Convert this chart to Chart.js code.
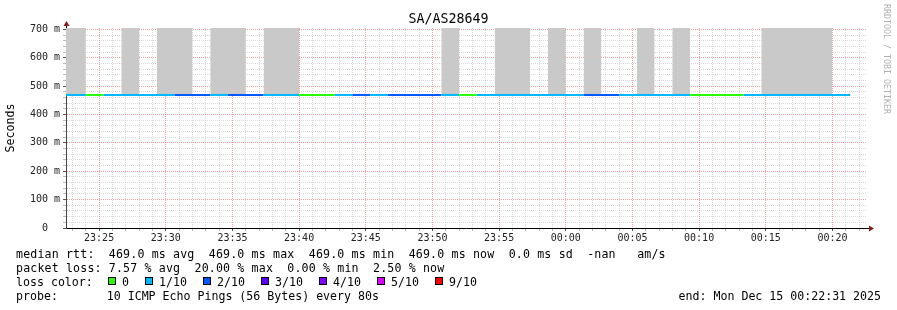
<!DOCTYPE html>
<html>
<head>
<meta charset="utf-8">
<title>SA/AS28649</title>
<script src="https://cdn.jsdelivr.net/npm/chart.js@4.4.1/dist/chart.umd.min.js"></script>
<style>
  html, body { margin: 0; padding: 0; background: #fff; }
  #wrap {
    position: relative; width: 897px; height: 310px; overflow: hidden;
    font-family: 'DejaVu Sans Mono', monospace; color: #000;
  }
  #graph { position: absolute; left: 0; top: 0; }
  #title {
    position: absolute; left: 0; top: 11px; width: 897px; text-align: center;
    font-size: 13.3px; line-height: 16px;
  }
  #credit {
    position: absolute; left: 882px; top: 4px;
    writing-mode: vertical-rl; font-size: 8.3px; color: #b0b0b0; white-space: pre;
  }
  .row {
    position: absolute; left: 16px; font-size: 11.6px; line-height: 14px; white-space: pre;
  }
  .wide { letter-spacing: 0.16px; }
  #end { left: auto; right: 16px; }
  .loss-item { position: absolute; top: 0; white-space: pre; }
  .loss-box {
    position: absolute; top: 2px; width: 8px; height: 8px;
    box-sizing: border-box; border: 1px solid #000;
  }
</style>
</head>
<body>
<div id="wrap">
  <canvas id="graph" width="897" height="310"></canvas>
  <div id="title">SA/AS28649</div>
  <div id="credit">RRDTOOL / TOBI OETIKER</div>
  <div class="row wide" style="top:247px">median rtt:  469.0 ms avg  469.0 ms max  469.0 ms min  469.0 ms now  0.0 ms sd  -nan   am/s</div>
  <div class="row wide" style="top:261px">packet loss: 7.57 % avg  20.00 % max  0.00 % min  2.50 % now</div>
  <div class="row" id="loss-row" style="top:275px">loss color:</div>
  <div class="row" style="top:289px">probe:       10 ICMP Echo Pings (56 Bytes) every 80s</div>
  <div class="row" id="end" style="top:289px">end: Mon Dec 15 00:22:31 2025</div>
</div>
<script>
// time axis, seconds of day (wraps past midnight)
const START = 23 * 3600 + 22 * 60 + 31;   // 23:22:31
const END = START + 3600;                 // 00:22:31
const STEP = 80;                          // probe step
const FIRST_STEP_END = 84160;             // 23:22:40
const Y_MAX = 705;

// one value per 80s step
const medianRtt = [
    469.0, 469.0, 469.0, 469.0, 469.0, 469.0, 469.0, 469.0, 469.0, 469.0,
    469.0, 469.0, 469.0, 469.0, 469.0, 469.0, 469.0, 469.0, 469.0, 469.0,
    469.0, 469.0, 469.0, 469.0, 469.0, 469.0, 469.0, 469.0, 469.0, 469.0,
    469.0, 469.0, 469.0, 469.0, 469.0, 469.0, 469.0, 469.0, 469.0, 469.0,
    469.0, 469.0, 469.0, 469.0, 469.0
];
const lossTenths = [
    1, 1, 0, 1, 1, 1, 1, 2, 2, 1,
    2, 2, 1, 1, 0, 0, 1, 2, 1, 2,
    2, 2, 1, 0, 1, 1, 1, 1, 1, 1,
    2, 2, 1, 1, 1, 1, 0, 0, 0, 1,
    1, 1, 1, 1, 1
];
// smoke upper edge (runs off the top of the graph)
const smokeMax = [
    705, 705, null, null, 705, null, 705, 705, null, 705,
    705, null, 705, 705, null, null, null, null, null, null,
    null, null, 705, null, null, 705, 705, null, 705, null,
    705, null, null, 705, null, 705, null, null, null, null,
    705, 705, 705, 705, null
];
const smokeMin = 469.0;

const lossLabels = ['0', '1/10', '2/10', '3/10', '4/10', '5/10', '9/10'];
const lossKeys = [0, 1, 2, 3, 4, 5, 9];
const LOSS_COLORS = {
    0: '#26ff00', 1: '#00b8ff', 2: '#0059ff', 3: '#5e00ff',
    4: '#7e00ff', 5: '#dd00ff', 9: '#ff0000'
};

const FONT = 'DejaVu Sans Mono';
const GRID_MINOR = 'rgba(170,170,170,0.45)';
const GRID_MAJOR = 'rgba(225,70,70,0.5)';

// legend row with colour boxes
const lossRow = document.getElementById('loss-row');
let left = 92;
lossKeys.forEach((key, i) => {
    const item = document.createElement('span');
    item.className = 'loss-item';
    item.style.left = left + 'px';
    const box = document.createElement('span');
    box.className = 'loss-box';
    box.style.background = LOSS_COLORS[key];
    item.appendChild(box);
    const txt = document.createElement('span');
    txt.style.marginLeft = '14px';
    txt.textContent = lossLabels[i];
    item.appendChild(txt);
    lossRow.appendChild(item);
    left += 14 + lossLabels[i].length * 7 + 16;
});

function fmtTime(v) {
    const s = ((v % 86400) + 86400) % 86400;
    const hh = String(Math.floor(s / 3600)).padStart(2, '0');
    const mm = String(Math.floor((s % 3600) / 60)).padStart(2, '0');
    return `${hh}:${mm}`;
}

// median line: stepped, one point per step start + closing point
const medianPoints = medianRtt.map((v, i) => ({ x: FIRST_STEP_END + STEP * (i - 1), y: v }));
medianPoints.push({ x: FIRST_STEP_END + STEP * (medianRtt.length - 1), y: medianRtt[medianRtt.length - 1] });

// smoke: each step as a flat piece, gaps where there is none
const smokePoints = [];
smokeMax.forEach((v, i) => {
    const stepEnd = FIRST_STEP_END + STEP * i;
    smokePoints.push({ x: stepEnd - STEP, y: v }, { x: stepEnd, y: v });
});

const axisArrows = {
    id: 'axisArrows',
    afterDraw(chart) {
        const { ctx, chartArea: a } = chart;
        ctx.save();
        ctx.strokeStyle = '#000';
        ctx.lineWidth = 1;
        ctx.beginPath();
        ctx.moveTo(a.right, a.bottom + 0.5);
        ctx.lineTo(a.right + 3, a.bottom + 0.5);
        ctx.moveTo(a.left + 0.5, a.top);
        ctx.lineTo(a.left + 0.5, a.top - 2);
        ctx.stroke();
        ctx.fillStyle = '#8b1c1c';
        ctx.beginPath();
        ctx.moveTo(a.right + 3, a.bottom - 2.5);
        ctx.lineTo(a.right + 8, a.bottom + 0.5);
        ctx.lineTo(a.right + 3, a.bottom + 3.5);
        ctx.closePath();
        ctx.fill();
        ctx.beginPath();
        ctx.moveTo(a.left - 2.5, a.top - 2);
        ctx.lineTo(a.left + 0.5, a.top - 7);
        ctx.lineTo(a.left + 3.5, a.top - 2);
        ctx.closePath();
        ctx.fill();
        ctx.restore();
    }
};

new Chart(document.getElementById('graph'), {
    type: 'line',
    data: {
        datasets: [
            {
                label: 'smoke',
                data: smokePoints,
                borderWidth: 0,
                pointRadius: 0,
                backgroundColor: '#c9c9c9',
                fill: { value: smokeMin },
                spanGaps: false,
                clip: 0,
                order: 2
            },
            {
                label: 'median rtt',
                data: medianPoints,
                stepped: 'after',
                borderWidth: 2,
                pointRadius: 0,
                fill: false,
                clip: 0,
                borderColor: LOSS_COLORS[1],
                segment: {
                    borderColor: (ctx) => LOSS_COLORS[lossTenths[ctx.p0DataIndex]] || LOSS_COLORS[1]
                },
                order: 1
            }
        ]
    },
    options: {
        responsive: false,
        animation: false,
        layout: { padding: { top: 28, right: 31, bottom: 0, left: 0 } },
        plugins: {
            legend: { display: false },
            tooltip: { enabled: false },
            title: { display: false }
        },
        scales: {
            x: {
                type: 'linear',
                min: START,
                max: END,
                afterFit: (scale) => { scale.height = 82; },
                afterBuildTicks: (scale) => {
                    const ticks = [];
                    for (let v = Math.ceil(START / 60) * 60; v <= END; v += 60) ticks.push({ value: v });
                    scale.ticks = ticks;
                },
                ticks: {
                    autoSkip: false,
                    maxRotation: 0,
                    padding: 1,
                    color: '#222',
                    font: { family: FONT, size: 10 },
                    callback: (v) => (v % 300 === 0 ? fmtTime(v) : '')
                },
                grid: {
                    color: (ctx) => (ctx.tick && ctx.tick.value % 300 === 0 ? GRID_MAJOR : GRID_MINOR),
                    tickColor: (ctx) => (ctx.tick && ctx.tick.value % 300 === 0 ? '#555' : '#bbb'),
                    tickLength: 3,
                    lineWidth: 1
                },
                border: { display: true, color: '#000', width: 1, dash: [1, 1] }
            },
            y: {
                min: 0,
                max: Y_MAX,
                afterFit: (scale) => { scale.width = 66; },
                afterBuildTicks: (scale) => {
                    const ticks = [];
                    for (let v = 0; v <= 700; v += 20) ticks.push({ value: v });
                    scale.ticks = ticks;
                },
                ticks: {
                    autoSkip: false,
                    padding: 3,
                    color: '#222',
                    font: { family: FONT, size: 10 },
                    callback: (v) => (v % 100 === 0 ? (v === 0 ? '0  ' : v + ' m') : '')
                },
                title: {
                    display: true,
                    text: 'Seconds',
                    color: '#000',
                    font: { family: FONT, size: 11.6 },
                    padding: { top: 4, bottom: 0 }
                },
                grid: {
                    color: (ctx) => (ctx.tick && ctx.tick.value % 100 === 0 ? GRID_MAJOR : GRID_MINOR),
                    tickColor: (ctx) => (ctx.tick && ctx.tick.value % 100 === 0 ? '#555' : '#bbb'),
                    tickLength: 3,
                    lineWidth: 1
                },
                border: { display: true, color: '#444', width: 1, dash: [1, 1] }
            }
        }
    },
    plugins: [axisArrows]
});
</script>
</body>
</html>
